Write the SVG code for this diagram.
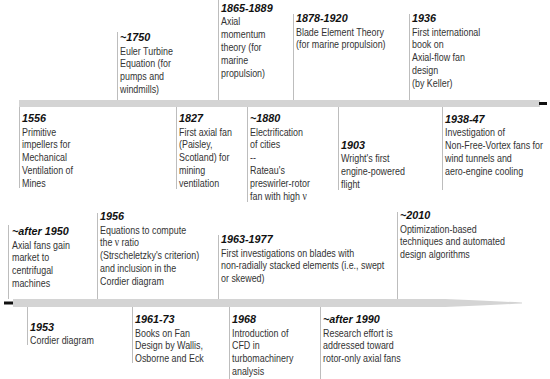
<svg xmlns="http://www.w3.org/2000/svg" width="550" height="379" viewBox="0 0 550 379">
<style>
.bg{fill:#ffffff}
.bar{fill:#d4d4d4}
.dash{fill:#111111}
.ld{stroke:#bdbdbd;stroke-width:1;fill:none}
.d{font-family:"Liberation Sans",Arial,sans-serif;font-weight:bold;font-style:italic;font-size:10.8px;fill:#111}
.t{font-family:"Liberation Sans",Arial,sans-serif;font-size:10.8px;fill:#333}
.nu{font-family:"Liberation Serif","Times New Roman",serif;font-size:11.5px}
</style>
<rect class="bg" x="0" y="0" width="550" height="379"/>
<g id="timeline">
<rect class="bar" x="19" y="100" width="521" height="7"/>
<rect class="dash" x="539" y="102" width="8" height="3"/>
<path class="bar" d="M13,299 H445 Q490,301 522,302.5 V303.5 Q490,305 445,307 H13 Z"/>
<rect class="dash" x="4" y="301.5" width="9" height="3"/>
</g>
<g id="connectors">
<line class="ld" x1="117.5" y1="32" x2="117.5" y2="100"/>
<line class="ld" x1="218.5" y1="0" x2="218.5" y2="100"/>
<line class="ld" x1="293.5" y1="14" x2="293.5" y2="100"/>
<line class="ld" x1="409.5" y1="14" x2="409.5" y2="100"/>
<line class="ld" x1="19.5" y1="107" x2="19.5" y2="188"/>
<line class="ld" x1="176.5" y1="107" x2="176.5" y2="189"/>
<line class="ld" x1="247.5" y1="107" x2="247.5" y2="202"/>
<line class="ld" x1="338.5" y1="107" x2="338.5" y2="190"/>
<line class="ld" x1="442.5" y1="107" x2="442.5" y2="190"/>
<line class="ld" x1="8.5" y1="225" x2="8.5" y2="299"/>
<line class="ld" x1="97.5" y1="213" x2="97.5" y2="299"/>
<line class="ld" x1="218.5" y1="235" x2="218.5" y2="299"/>
<line class="ld" x1="397.5" y1="212" x2="397.5" y2="299"/>
<line class="ld" x1="27.5" y1="307" x2="27.5" y2="345"/>
<line class="ld" x1="132.5" y1="307" x2="132.5" y2="363"/>
<line class="ld" x1="229.5" y1="307" x2="229.5" y2="379"/>
<line class="ld" x1="320.5" y1="307" x2="320.5" y2="379"/>
</g>
<g id="ev-1750">
<text class="d" x="120" y="41">~1750</text>
<text class="t" transform="translate(120,54.5) scale(0.825,1)"><tspan x="0" y="0">Euler Turbine</tspan><tspan x="0" y="13">Equation (for</tspan><tspan x="0" y="26">pumps and</tspan><tspan x="0" y="39">windmills)</tspan></text>
</g>
<g id="ev-1865">
<text class="d" x="221" y="11.5">1865-1889</text>
<text class="t" transform="translate(221,25) scale(0.825,1)"><tspan x="0" y="0">Axial</tspan><tspan x="0" y="13">momentum</tspan><tspan x="0" y="26">theory (for</tspan><tspan x="0" y="39">marine</tspan><tspan x="0" y="52">propulsion)</tspan></text>
</g>
<g id="ev-1878">
<text class="d" x="296" y="22">1878-1920</text>
<text class="t" transform="translate(296,35.5) scale(0.825,1)"><tspan x="0" y="0">Blade Element Theory</tspan><tspan x="0" y="13">(for marine propulsion)</tspan></text>
</g>
<g id="ev-1936">
<text class="d" x="412" y="22">1936</text>
<text class="t" transform="translate(412,35.5) scale(0.825,1)"><tspan x="0" y="0">First international</tspan><tspan x="0" y="13">book on</tspan><tspan x="0" y="26">Axial-flow fan</tspan><tspan x="0" y="39">design</tspan><tspan x="0" y="52">(by Keller)</tspan></text>
</g>
<g id="ev-1556">
<text class="d" x="22" y="122">1556</text>
<text class="t" transform="translate(22,135.5) scale(0.825,1)"><tspan x="0" y="0">Primitive</tspan><tspan x="0" y="13">impellers for</tspan><tspan x="0" y="26">Mechanical</tspan><tspan x="0" y="39">Ventilation of</tspan><tspan x="0" y="52">Mines</tspan></text>
</g>
<g id="ev-1827">
<text class="d" x="179" y="122">1827</text>
<text class="t" transform="translate(179,135.5) scale(0.825,1)"><tspan x="0" y="0">First axial fan</tspan><tspan x="0" y="13">(Paisley,</tspan><tspan x="0" y="26">Scotland) for</tspan><tspan x="0" y="39">mining</tspan><tspan x="0" y="52">ventilation</tspan></text>
</g>
<g id="ev-1880">
<text class="d" x="250" y="122">~1880</text>
<text class="t" transform="translate(250,135.5) scale(0.825,1)"><tspan x="0" y="0">Electrification</tspan><tspan x="0" y="13">of cities</tspan><tspan x="0" y="26">--</tspan><tspan x="0" y="39">Rateau's</tspan><tspan x="0" y="52">preswirler-rotor</tspan><tspan x="0" y="65">fan with high <tspan class="nu">ν</tspan></tspan></text>
</g>
<g id="ev-1903">
<text class="d" x="341" y="148.5">1903</text>
<text class="t" transform="translate(341,162) scale(0.825,1)"><tspan x="0" y="0">Wright's first</tspan><tspan x="0" y="13">engine-powered</tspan><tspan x="0" y="26">flight</tspan></text>
</g>
<g id="ev-1938">
<text class="d" x="445" y="122.5">1938-47</text>
<text class="t" transform="translate(445,136) scale(0.825,1)"><tspan x="0" y="0">Investigation of</tspan><tspan x="0" y="13">Non-Free-Vortex fans for</tspan><tspan x="0" y="26">wind tunnels and</tspan><tspan x="0" y="39">aero-engine cooling</tspan></text>
</g>
<g id="ev-1950">
<text class="d" x="12" y="235">~after 1950</text>
<text class="t" transform="translate(12,248.5) scale(0.825,1)"><tspan x="0" y="0">Axial fans gain</tspan><tspan x="0" y="13">market to</tspan><tspan x="0" y="26">centrifugal</tspan><tspan x="0" y="39">machines</tspan></text>
</g>
<g id="ev-1956">
<text class="d" x="100" y="220">1956</text>
<text class="t" transform="translate(100,233.5) scale(0.825,1)"><tspan x="0" y="0">Equations to compute</tspan><tspan x="0" y="13">the <tspan class="nu">ν</tspan> ratio</tspan><tspan x="0" y="26">(Strscheletzky's criterion)</tspan><tspan x="0" y="39">and inclusion in the</tspan><tspan x="0" y="52">Cordier diagram</tspan></text>
</g>
<g id="ev-1963">
<text class="d" x="221" y="243">1963-1977</text>
<text class="t" transform="translate(221,256.5) scale(0.825,1)"><tspan x="0" y="0">First investigations on blades with</tspan><tspan x="0" y="13">non-radially stacked elements (i.e., swept</tspan><tspan x="0" y="26">or skewed)</tspan></text>
</g>
<g id="ev-2010">
<text class="d" x="400" y="219">~2010</text>
<text class="t" transform="translate(400,232.5) scale(0.825,1)"><tspan x="0" y="0">Optimization-based</tspan><tspan x="0" y="13">techniques and automated</tspan><tspan x="0" y="26">design algorithms</tspan></text>
</g>
<g id="ev-1953">
<text class="d" x="30" y="330.5">1953</text>
<text class="t" transform="translate(30,344) scale(0.825,1)"><tspan x="0" y="0">Cordier diagram</tspan></text>
</g>
<g id="ev-1961">
<text class="d" x="135" y="323">1961-73</text>
<text class="t" transform="translate(135,336.5) scale(0.825,1)"><tspan x="0" y="0">Books on Fan</tspan><tspan x="0" y="13">Design by Wallis,</tspan><tspan x="0" y="26">Osborne and Eck</tspan></text>
</g>
<g id="ev-1968">
<text class="d" x="232" y="323">1968</text>
<text class="t" transform="translate(232,336.5) scale(0.825,1)"><tspan x="0" y="0">Introduction of</tspan><tspan x="0" y="13">CFD in</tspan><tspan x="0" y="26">turbomachinery</tspan><tspan x="0" y="39">analysis</tspan></text>
</g>
<g id="ev-1990">
<text class="d" x="323" y="323">~after 1990</text>
<text class="t" transform="translate(323,336.5) scale(0.825,1)"><tspan x="0" y="0">Research effort is</tspan><tspan x="0" y="13">addressed toward</tspan><tspan x="0" y="26">rotor-only axial fans</tspan></text>
</g>
</svg>
